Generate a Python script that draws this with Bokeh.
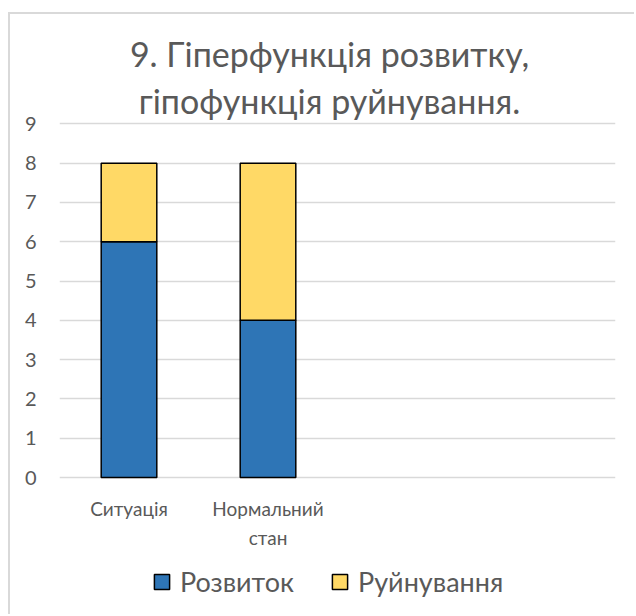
from bokeh.plotting import figure
from bokeh.models import (ColumnDataSource, FixedTicker, Legend, LegendItem,
                          Range1d, Label)
from bokeh.core.properties import value
from bokeh.embed import file_html
from bokeh.resources import INLINE

# ---- data ----
categories = ["Ситуація", "Нормальний\nстан"]
n_slots = 4  # the chart reserves room for four category slots
rozvytok = [6, 4]
ruinuvannia = [2, 4]
series_names = ["Розвиток", "Руйнування"]
series_colors = ["#2E75B6", "#FFD966"]
title_lines = ["9. Гіперфункція розвитку,", "гіпофункція руйнування."]
y_ticks = [0, 1, 2, 3, 4, 5, 6, 7, 8, 9]

FONT = "Lato"
TXT = "#595959"

# ---- layout (page pixels) ----
OX, OY = 10, 14            # canvas origin after chart-area CSS margin + border
W, H = 636 - OX, 616 - OY  # canvas size
PLOT_L, PLOT_R = 59, 615   # plot area, page px
Y0_PX, YTOP_PX = 477, 123.4
PXU = (Y0_PX - YTOP_PX) / max(y_ticks)
XU = (PLOT_R - PLOT_L) / n_slots


def py(px):  # page y pixel -> data y
    return (Y0_PX - px) / PXU


def px_x(px):  # page x pixel -> data x
    return (px - PLOT_L) / XU - 0.5


xs = list(range(len(categories)))
source = ColumnDataSource(dict(x=xs, s1=rozvytok, s2=ruinuvannia, label=categories))

p = figure(width=W, height=H, output_backend="svg", toolbar_location=None,
           title=None, x_axis_location=None,
           x_range=Range1d(-0.5, n_slots - 0.5),
           y_range=Range1d(py(OY + H), py(OY)),
           min_border_left=PLOT_L - OX, min_border_right=OX + W - PLOT_R,
           min_border_top=0, min_border_bottom=0)
p.styles = {"margin-left": "8px", "margin-top": "12px",
            "border-left": "2px solid #D9D9D9", "border-top": "2px solid #D9D9D9"}

rs = p.vbar_stack(["s1", "s2"], x="x", width=0.4, source=source,
                  fill_color=series_colors, line_color="black", line_width=1.5)

# category labels (x axis)
p.text(x="x", y=py(496), text="label", source=source,
       text_align="center", text_baseline="top",
       text_font=value(FONT), text_font_size=value("19px"), text_color=TXT,
       text_line_height=1.3)

# y axis
p.yaxis.ticker = FixedTicker(ticks=y_ticks)
p.yaxis.axis_line_color = None
p.yaxis.major_tick_line_color = None
p.yaxis.minor_tick_line_color = None
p.yaxis.major_label_standoff = 17
p.yaxis.major_label_text_font = FONT
p.yaxis.major_label_text_font_size = "20px"
p.yaxis.major_label_text_color = TXT

p.xgrid.visible = False
p.ygrid.ticker = FixedTicker(ticks=y_ticks)
p.ygrid.grid_line_color = "#D9D9D9"
p.ygrid.grid_line_width = 1.3
p.outline_line_color = None

# title
for line, base in zip(title_lines, [53, 100]):
    p.add_layout(Label(x=px_x(329), y=py(base), text=line,
                       text_align="center", text_baseline="alphabetic",
                       text_font=FONT, text_font_size="34px", text_color=TXT))

# legend
legend = Legend(items=[LegendItem(label=n, renderers=[r]) for n, r in zip(series_names, rs)],
                orientation="horizontal", location=(152 - PLOT_L, 18),
                glyph_width=19, glyph_height=19, label_standoff=9, spacing=36,
                padding=0, margin=0, border_line_alpha=0, background_fill_alpha=0,
                label_text_font=FONT, label_text_font_size="27px",
                label_text_color=TXT)
p.add_layout(legend, "center")

open("out.html", "w").write(file_html(p, INLINE))
